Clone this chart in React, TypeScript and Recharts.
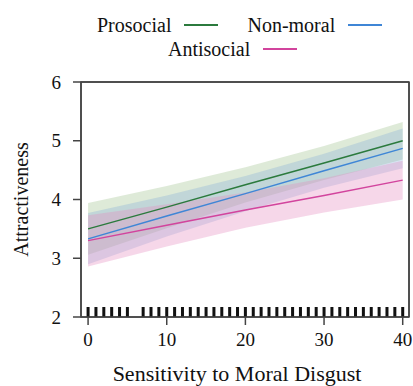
import {
  ComposedChart,
  Area,
  Line,
  Scatter,
  XAxis,
  YAxis,
} from "recharts";

// fitted effects at x = 0, 10, 20, 30, 40
const xs = [0, 10, 20, 30, 40];

const proFit = [3.5, 3.87, 4.25, 4.62, 5.0];
const proLow = [3.06, 3.51, 3.95, 4.33, 4.68];
const proHigh = [3.94, 4.23, 4.55, 4.91, 5.32];

const nonFit = [3.33, 3.72, 4.1, 4.49, 4.87];
const nonLow = [2.9, 3.37, 3.8, 4.2, 4.53];
const nonHigh = [3.77, 4.07, 4.4, 4.78, 5.21];

const antiFit = [3.3, 3.56, 3.82, 4.07, 4.33];
const antiLow = [2.86, 3.2, 3.52, 3.78, 4.0];
const antiHigh = [3.73, 3.92, 4.12, 4.36, 4.66];

// observed disgust scores (rug)
const rugX = [
  0, 1, 2, 3, 4, 5, 7, 8, 9, 10, 11, 12, 13, 14, 15, 16, 17, 18, 19, 20, 21,
  22, 23, 24, 25, 26, 27, 28, 29, 30, 31, 32, 33, 34, 35, 36, 37, 38, 39, 40,
];

const xTicks = [0, 10, 20, 30, 40];
const yTicks = [2, 3, 4, 5, 6];
const xDomain = [-0.9, 40.8];
const yDomain = [2, 6];

const FONT = "'Liberation Serif', 'Times New Roman', serif";
const AXIS = "#444";

const rows = xs.map((x, i) => ({
  x,
  pro: proFit[i],
  proBand: [proLow[i], proHigh[i]],
  non: nonFit[i],
  nonBand: [nonLow[i], nonHigh[i]],
  anti: antiFit[i],
  antiBand: [antiLow[i], antiHigh[i]],
}));

const rug = rugX.map((x) => ({ x, y: 2 }));

const tickStyle = { fill: "#111", fontSize: 19, fontFamily: FONT };

const RugMark = (props: any) => (
  <rect x={props.cx - 1.5} y={props.cy - 10} width={3} height={10} fill="#111" />
);

const legendRow = (items: { name: string; color: string }[]) =>
  items.map((it, i) => (
    <span
      key={it.name}
      style={{ display: "inline-flex", alignItems: "center", marginLeft: i ? 29 : 0 }}
    >
      <span>{it.name}</span>
      <span
        style={{
          display: "inline-block",
          width: 34,
          height: 0,
          borderTop: `2px solid ${it.color}`,
          marginLeft: 13,
        }}
      />
    </span>
  ));

const legendBox = {
  position: "absolute" as const,
  fontFamily: FONT,
  fontSize: 20,
  lineHeight: "24px",
  color: "#111",
  whiteSpace: "nowrap" as const,
  display: "flex",
};

// plot panel (matches chart margins + axis sizes below)
const PANEL = { left: 81, top: 82, right: 409, bottom: 317 };

export default function App() {
  return (
    <div style={{ position: "absolute", left: 0, top: 0, width: 413, height: 386, background: "#fff" }}>
      <div style={{ ...legendBox, left: 97, top: 13 }}>
        {legendRow([
          { name: "Prosocial", color: "#2b7a3d" },
          { name: "Non-moral", color: "#3f86d6" },
        ])}
      </div>
      <div style={{ ...legendBox, left: 168, top: 37 }}>
        {legendRow([{ name: "Antisocial", color: "#d2449d" }])}
      </div>

      <ComposedChart
        width={413}
        height={386}
        data={rows}
        margin={{ top: 72, right: 0, bottom: 0, left: 0 }}
      >
        <XAxis
          xAxisId="bottom"
          dataKey="x"
          type="number"
          domain={xDomain}
          ticks={xTicks}
          allowDataOverflow
          height={69}
          tickSize={8}
          tickMargin={8}
          tick={tickStyle}
          axisLine={{ stroke: AXIS, strokeWidth: 1.5 }}
          tickLine={{ stroke: AXIS, strokeWidth: 1.5 }}
          label={{
            content: (p: any) => {
              const vb = p.viewBox;
              return (
                <text
                  x={vb.x + vb.width / 2 - 8}
                  y={373}
                  textAnchor="middle"
                  dominantBaseline="central"
                  fontFamily={FONT}
                  fontSize={22}
                  fill="#111"
                >
                  Sensitivity to Moral Disgust
                </text>
              );
            },
          }}
        />
        <XAxis
          xAxisId="top"
          orientation="top"
          dataKey="x"
          type="number"
          domain={xDomain}
          ticks={xTicks}
          allowDataOverflow
          height={10}
          tickSize={8}
          tick={false}
          axisLine={{ stroke: AXIS, strokeWidth: 1.5 }}
          tickLine={{ stroke: AXIS, strokeWidth: 1.5 }}
        />
        <YAxis
          yAxisId="left"
          type="number"
          domain={yDomain}
          ticks={yTicks}
          allowDataOverflow
          width={81}
          tickSize={8}
          tickMargin={12}
          tick={tickStyle}
          axisLine={{ stroke: AXIS, strokeWidth: 1.5 }}
          tickLine={{ stroke: AXIS, strokeWidth: 1.5 }}
          label={{
            content: (p: any) => {
              const vb = p.viewBox;
              const cx = 21;
              const cy = vb.y + vb.height / 2;
              return (
                <text
                  x={cx}
                  y={cy}
                  transform={`rotate(-90, ${cx}, ${cy})`}
                  textAnchor="middle"
                  dominantBaseline="central"
                  fontFamily={FONT}
                  fontSize={20}
                  fill="#111"
                >
                  Attractiveness
                </text>
              );
            },
          }}
        />
        <YAxis
          yAxisId="right"
          orientation="right"
          type="number"
          domain={yDomain}
          ticks={yTicks}
          allowDataOverflow
          width={4}
          tickSize={8}
          tick={false}
          axisLine={{ stroke: AXIS, strokeWidth: 1.5 }}
          tickLine={{ stroke: AXIS, strokeWidth: 1.5 }}
        />

        <Area
          xAxisId="bottom"
          yAxisId="left"
          type="linear"
          dataKey="proBand"
          stroke="none"
          fill="#9cc08a"
          fillOpacity={0.33}
          dot={false}
          activeDot={false}
          isAnimationActive={false}
        />
        <Area
          xAxisId="bottom"
          yAxisId="left"
          type="linear"
          dataKey="nonBand"
          stroke="none"
          fill="#7fa8d8"
          fillOpacity={0.3}
          dot={false}
          activeDot={false}
          isAnimationActive={false}
        />
        <Area
          xAxisId="bottom"
          yAxisId="left"
          type="linear"
          dataKey="antiBand"
          stroke="none"
          fill="#e58cc0"
          fillOpacity={0.35}
          dot={false}
          activeDot={false}
          isAnimationActive={false}
        />

        <Line
          xAxisId="bottom"
          yAxisId="left"
          type="linear"
          dataKey="pro"
          stroke="#2b7a3d"
          strokeWidth={1.5}
          dot={false}
          activeDot={false}
          isAnimationActive={false}
        />
        <Line
          xAxisId="bottom"
          yAxisId="left"
          type="linear"
          dataKey="non"
          stroke="#3f86d6"
          strokeWidth={1.5}
          dot={false}
          activeDot={false}
          isAnimationActive={false}
        />
        <Line
          xAxisId="bottom"
          yAxisId="left"
          type="linear"
          dataKey="anti"
          stroke="#d2449d"
          strokeWidth={1.5}
          dot={false}
          activeDot={false}
          isAnimationActive={false}
        />

        <Scatter
          xAxisId="bottom"
          yAxisId="left"
          data={rug}
          dataKey="y"
          shape={RugMark}
          isAnimationActive={false}
        />
      </ComposedChart>

      {/* panel frame drawn on top */}
      <svg
        width={413}
        height={386}
        style={{ position: "absolute", left: 0, top: 0, pointerEvents: "none" }}
      >
        <rect
          x={PANEL.left}
          y={PANEL.top}
          width={PANEL.right - PANEL.left}
          height={PANEL.bottom - PANEL.top}
          fill="none"
          stroke={AXIS}
          strokeWidth={1.5}
        />
      </svg>
    </div>
  );
}
